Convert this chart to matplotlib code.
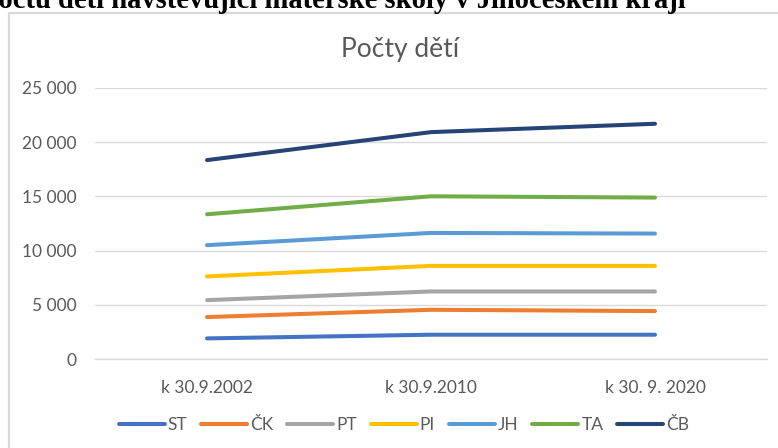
import matplotlib
matplotlib.use("Agg")
import matplotlib.pyplot as plt
from matplotlib.patches import Rectangle
import numpy as np

categories = ["k 30.9.2002", "k 30.9.2010", "k 30. 9. 2020"]
series_names = ["ST", "ČK", "PT", "PI", "JH", "TA", "ČB"]
ST = [1900, 2240, 2240]
CK = [3870, 4540, 4420]
PT = [5430, 6230, 6230]
PI = [7615, 8590, 8590]
JH = [10500, 11630, 11570]
TA = [13350, 15010, 14890]
CB = [18350, 20930, 21700]
series_values = [ST, CK, PT, PI, JH, TA, CB]
colors = ["#4472C4", "#ED7D31", "#A5A5A5", "#FFC000", "#5B9BD5", "#70AD47", "#264478"]
yticks = [0, 5000, 10000, 15000, 20000, 25000]
ytick_labels = ["0", "5 000", "10 000", "15 000", "20 000", "25 000"]

plt.rcParams['font.family'] = ['Lato', 'DejaVu Sans']

W, H = 778, 448
fig = plt.figure(figsize=(W / 100, H / 100), dpi=100)

# chart frame
fig.patches.append(Rectangle((9 / W, -0.1), 1.2, 1 - 13 / H + 0.1, transform=fig.transFigure,
                             facecolor="none", edgecolor="#D9D9D9", linewidth=1.6))

# cropped document heading
fig.text(686 / W, 1 - 8.5 / H, "Počtu dětí navštěvující mateřské školy v Jihočeském kraji",
         ha="right", va="baseline", family="Liberation Serif", fontweight="bold",
         fontsize=20.6, color="black")

ax = fig.add_axes([95 / W, (H - 359) / H, (767 - 95) / W, (359 - 88) / H])
x = np.arange(len(categories))

handles = []
for name, vals, c in zip(series_names, series_values, colors):
    ln, = ax.plot(x, vals, color=c, linewidth=2.9, solid_capstyle="round",
                  solid_joinstyle="round", label=name, zorder=3)
    handles.append(ln)

ax.set_xlim(-0.5, len(categories) - 0.5)
ax.set_ylim(0, 25000)
ax.set_yticks(yticks)
ax.set_yticklabels(ytick_labels)
ax.set_xticks(x)
ax.set_xticklabels(categories)
ax.tick_params(axis="both", length=0, labelsize=12.5, labelcolor="#595959")
ax.tick_params(axis="y", pad=13)
ax.tick_params(axis="x", pad=15)
ax.grid(axis="y", color="#D9D9D9", linewidth=1.0)
ax.set_axisbelow(True)
for s in ["top", "right", "left"]:
    ax.spines[s].set_visible(False)
ax.spines["bottom"].set_color("#D9D9D9")
ax.spines["bottom"].set_linewidth(1.0)

fig.text(400 / W, 1 - 57 / H, "Počty dětí", ha="center", va="baseline",
         fontsize=19, color="#595959")

fig.legend(handles=handles, loc="center", bbox_to_anchor=(404 / W, 1 - 425 / H),
           ncol=7, frameon=False, fontsize=12.5, labelcolor="#595959",
           handlelength=2.65, handletextpad=0.17, columnspacing=0.8)

fig.savefig("out.png", dpi=100)
